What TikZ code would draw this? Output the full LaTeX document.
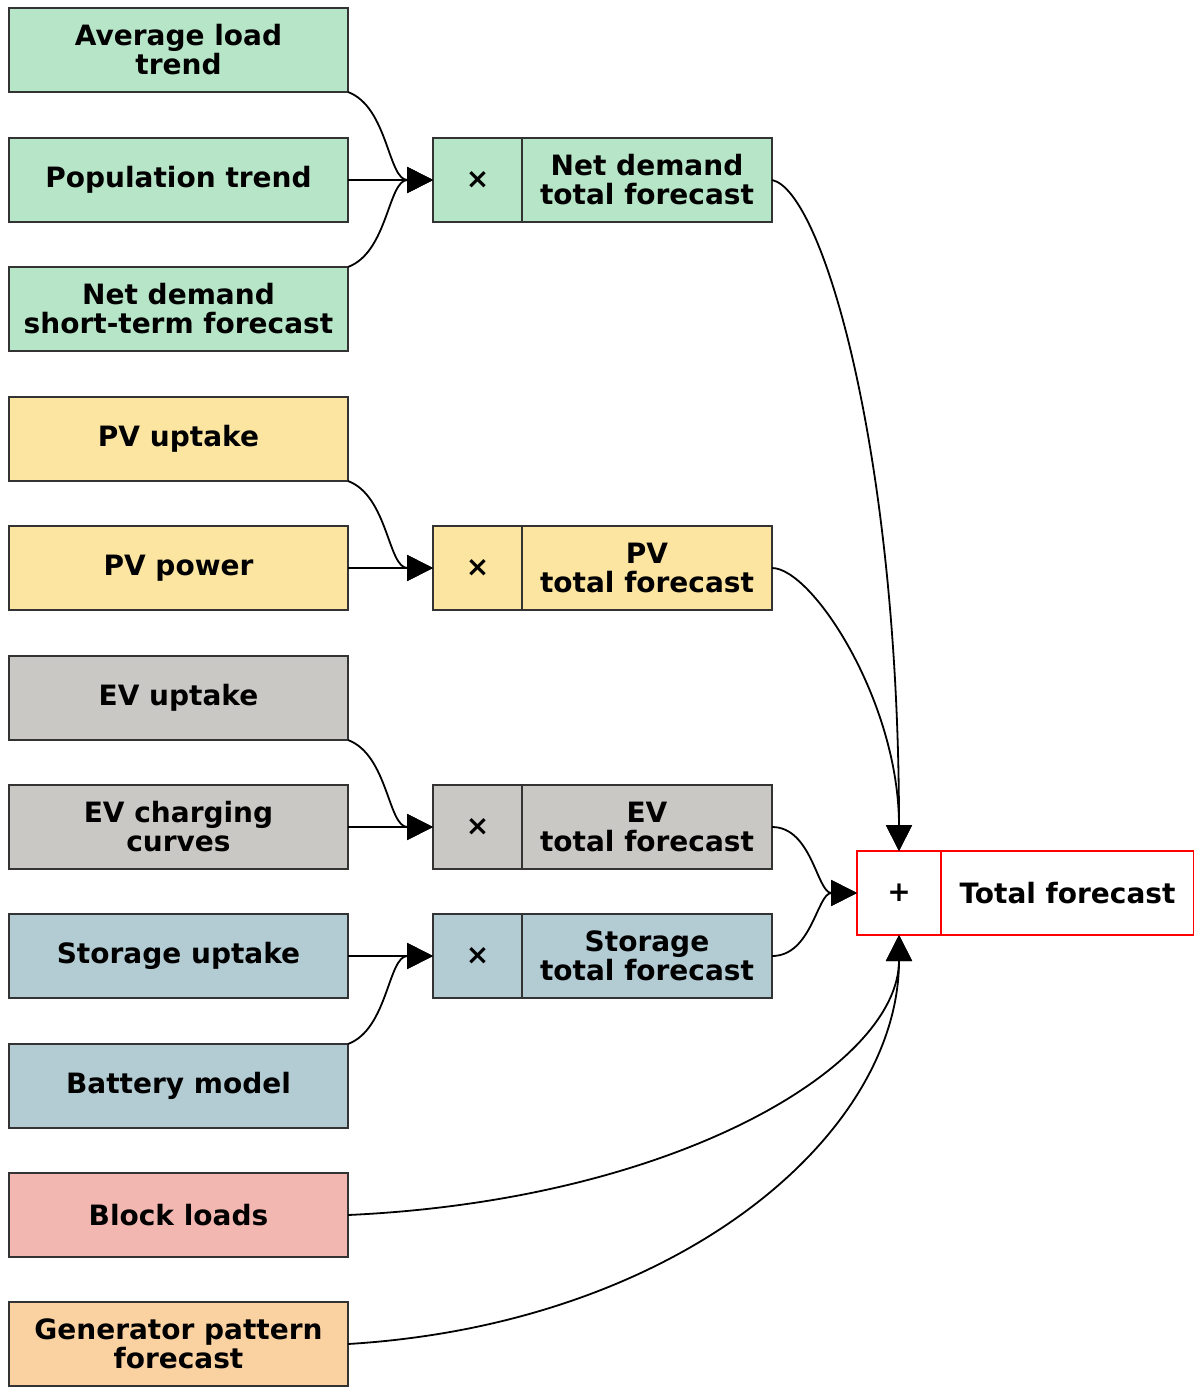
\documentclass[tikz,border=0pt]{standalone}
\usepackage{fontspec}
\setmainfont{DejaVu Sans}
\usepackage{xcolor}
\usetikzlibrary{arrows.meta}
\usetikzlibrary{positioning}

\definecolor{loadgreen}{HTML}{B7E5C8}
\definecolor{pvyellow}{HTML}{FBE5A1}
\definecolor{evgrey}{HTML}{CAC8C4}
\definecolor{storeblue}{HTML}{B3CBD3}
\definecolor{blockpink}{HTML}{F3B7B2}
\definecolor{genorange}{HTML}{FAD2A2}

\tikzset{
    inbox/.style = {draw = black!80, line width = 1pt, minimum width = 169.5pt,
        minimum height = 42pt, inner sep = 0pt, outer sep = 0pt, align = center,
        font = \fontsize{14}{14.5}\selectfont\bfseries},
    opbox/.style = {inbox, minimum width = 44.5pt},
    sumbox/.style = {inbox, minimum width = 125pt},
    flow/.style = {line width = 0.9pt, black, -{Triangle[length = 13pt, width = 13pt]}}
}

\begin{document}
\begin{tikzpicture}[x = 0.5pt, y = -0.5pt]
        \useasboundingbox (0, 0) rectangle (1194, 1387);

        \node [inbox, fill = loadgreen] (avg) at (178.5, 50) {Average load\\trend};
        \node [inbox, fill = loadgreen] (pop) at (178.5, 180) {Population trend};
        \node [inbox, fill = loadgreen] (nds) at (178.5, 309) {Net demand\\short-term forecast};
        \node [inbox, fill = pvyellow] (pvu) at (178.5, 439) {PV uptake};
        \node [inbox, fill = pvyellow] (pvp) at (178.5, 568) {PV power};
        \node [inbox, fill = evgrey] (evu) at (178.5, 698) {EV uptake};
        \node [inbox, fill = evgrey] (evc) at (178.5, 827) {EV charging\\curves};
        \node [inbox, fill = storeblue] (stu) at (178.5, 956) {Storage uptake};
        \node [inbox, fill = storeblue] (bat) at (178.5, 1086) {Battery model};
        \node [inbox, fill = blockpink] (blk) at (178.5, 1215) {Block loads};
        \node [inbox, fill = genorange] (gen) at (178.5, 1344) {Generator pattern\\forecast};

        \node [opbox, fill = loadgreen] (ndop) at (477.5, 180) {×};
        \node [sumbox, fill = loadgreen, right = 0pt of ndop] (ndtot) {Net demand\\total forecast};
        \node [opbox, fill = pvyellow] (pvop) at (477.5, 568) {×};
        \node [sumbox, fill = pvyellow, right = 0pt of pvop] (pvtot) {PV\\total forecast};
        \node [opbox, fill = evgrey] (evop) at (477.5, 827) {×};
        \node [sumbox, fill = evgrey, right = 0pt of evop] (evtot) {EV\\total forecast};
        \node [opbox, fill = storeblue] (stop) at (477.5, 956) {×};
        \node [sumbox, fill = storeblue, right = 0pt of stop] (sttot) {Storage\\total forecast};

        \node [opbox, draw = red, minimum width = 42pt, fill = white] (addop) at (899, 893) {+};
        \node [sumbox, draw = red, minimum width = 126.5pt, fill = white, right = 0pt of addop] (total) {Total forecast};

        \draw [flow] (avg.south east) .. controls +(40, 15) and +(-45, 0) .. (ndop.west);
        \draw [flow] (pop.east) -- (ndop.west);
        \draw [flow] (nds.north east) .. controls +(40, -15) and +(-45, 0) .. (ndop.west);

        \draw [flow] (pvu.south east) .. controls +(40, 15) and +(-45, 0) .. (pvop.west);
        \draw [flow] (pvp.east) -- (pvop.west);

        \draw [flow] (evu.south east) .. controls +(40, 15) and +(-45, 0) .. (evop.west);
        \draw [flow] (evc.east) -- (evop.west);

        \draw [flow] (stu.east) -- (stop.west);
        \draw [flow] (bat.north east) .. controls +(40, -15) and +(-45, 0) .. (stop.west);

        \draw [flow] (ndtot.east) .. controls +(50, 10) and +(0, -400) .. (addop.north);
        \draw [flow] (pvtot.east) .. controls +(40, 0) and +(0, -150) .. (addop.north);
        \draw [flow] (evtot.east) .. controls +(40, 0) and +(-40, 0) .. (addop.west);
        \draw [flow] (sttot.east) .. controls +(40, 0) and +(-40, 0) .. (addop.west);
        \draw [flow] (blk.east) .. controls +(330, -15) and +(0, 130) .. (addop.south);
        \draw [flow] (gen.east) .. controls +(330, -20) and +(0, 200) .. (addop.south);
        \end{tikzpicture}
\end{document}
